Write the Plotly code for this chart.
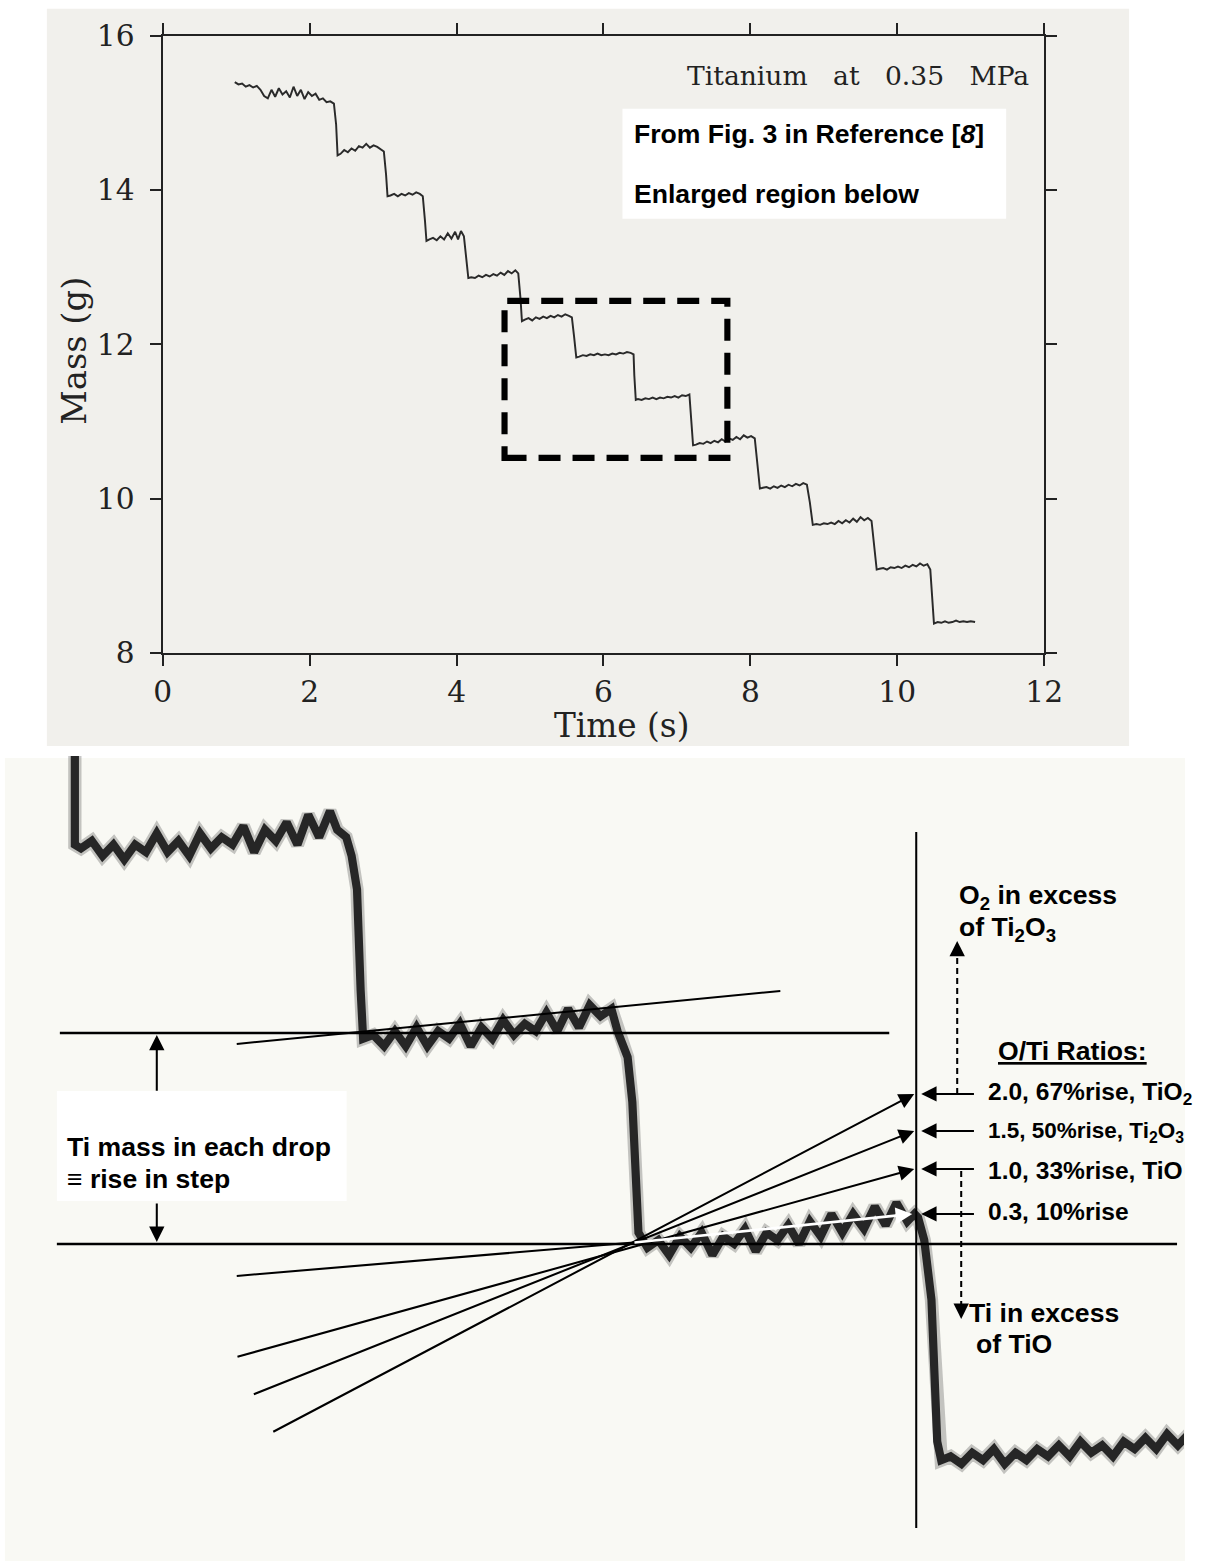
import plotly.graph_objects as go

W, H = 1206, 1564
# the captured page shows the figure slightly reduced and offset; place everything in picture pixels
S, OX, OY = 0.9775, 9.1, 17.2


def px(x):
    return (x - OX) / S / W


def py(y):
    return 1 - (y - OY) / S / H


def k(v):
    return v / S


# ---------------- data ----------------
top_time = [
    0.98, 1.03, 1.08, 1.13, 1.18, 1.23, 1.28, 1.33, 1.38, 1.43, 1.48, 1.53, 1.58, 1.63, 1.68, 1.73,
    1.78, 1.83, 1.88, 1.93, 1.98, 2.03, 2.08, 2.13, 2.18, 2.23, 2.28, 2.33,
    2.36, 2.38,
    2.42, 2.47, 2.52, 2.57, 2.62, 2.67, 2.72, 2.77, 2.82, 2.87, 2.92, 2.97, 3.01,
    3.04, 3.06,
    3.10, 3.15, 3.20, 3.25, 3.30, 3.35, 3.40, 3.45, 3.50, 3.54,
    3.57, 3.59,
    3.63, 3.68, 3.73, 3.78, 3.83, 3.88, 3.93, 3.98, 4.02, 4.06, 4.10,
    4.13, 4.16,
    4.20, 4.25, 4.30, 4.35, 4.40, 4.45, 4.50, 4.55, 4.60, 4.65, 4.70, 4.75, 4.80, 4.84,
    4.87, 4.89,
    4.93, 4.98, 5.03, 5.08, 5.13, 5.18, 5.23, 5.28, 5.33, 5.38, 5.43, 5.48, 5.53, 5.57,
    5.60, 5.63,
    5.67, 5.72, 5.77, 5.82, 5.87, 5.92, 5.97, 6.02, 6.07, 6.12, 6.17, 6.22, 6.27, 6.32, 6.37, 6.41,
    6.42, 6.44,
    6.47, 6.52, 6.57, 6.62, 6.67, 6.72, 6.77, 6.82, 6.87, 6.92, 6.97, 7.02, 7.07, 7.12, 7.17,
    7.20, 7.22,
    7.26, 7.31, 7.36, 7.41, 7.46, 7.51, 7.56, 7.61, 7.66, 7.71, 7.76, 7.81, 7.86, 7.91, 7.96, 8.01, 8.06,
    8.09, 8.13,
    8.17, 8.22, 8.27, 8.32, 8.37, 8.42, 8.47, 8.52, 8.57, 8.62, 8.67, 8.72, 8.77,
    8.81, 8.85,
    8.90, 8.95, 9.00, 9.05, 9.10, 9.15, 9.20, 9.25, 9.30, 9.35, 9.40, 9.45, 9.50, 9.55, 9.60, 9.65,
    9.68, 9.72,
    9.76, 9.81, 9.86, 9.91, 9.96, 10.01, 10.06, 10.11, 10.16, 10.21, 10.26, 10.31, 10.36, 10.41, 10.45,
    10.47, 10.50,
    10.55, 10.60, 10.65, 10.70, 10.75, 10.80, 10.85, 10.90, 10.95, 11.00, 11.06,
]
top_mass = [
    15.40, 15.37, 15.38, 15.34, 15.36, 15.33, 15.35, 15.30, 15.22, 15.19, 15.30, 15.21, 15.32, 15.24, 15.28, 15.20,
    15.34, 15.22, 15.30, 15.18, 15.27, 15.22, 15.25, 15.17, 15.19, 15.14, 15.15, 15.12,
    14.85, 14.45,
    14.47, 14.52, 14.49, 14.54, 14.51, 14.57, 14.55, 14.60, 14.55, 14.58, 14.56, 14.53, 14.50,
    14.20, 13.92,
    13.93, 13.95, 13.92, 13.95, 13.93, 13.96, 13.94, 13.97, 13.95, 13.92,
    13.60, 13.34,
    13.36, 13.38, 13.35, 13.40, 13.36, 13.44, 13.37, 13.46, 13.36, 13.47, 13.40,
    13.10, 12.86,
    12.87, 12.86, 12.89, 12.87, 12.90, 12.88, 12.91, 12.89, 12.93, 12.90, 12.95, 12.92, 12.96, 12.92,
    12.60, 12.30,
    12.32, 12.34, 12.31, 12.35, 12.33, 12.36, 12.34, 12.37, 12.35, 12.38, 12.36, 12.39, 12.37, 12.35,
    12.10, 11.83,
    11.84, 11.86, 11.85, 11.87, 11.86, 11.88, 11.86, 11.87, 11.86, 11.88, 11.87, 11.89, 11.88, 11.90, 11.89, 11.87,
    11.60, 11.28,
    11.29, 11.28, 11.30, 11.29, 11.31, 11.29, 11.31, 11.30, 11.32, 11.31, 11.33, 11.31, 11.34, 11.33, 11.35,
    11.00, 10.69,
    10.70, 10.72, 10.71, 10.74, 10.72, 10.75, 10.73, 10.77, 10.74, 10.78, 10.76, 10.80, 10.77, 10.82, 10.79, 10.81, 10.78,
    10.50, 10.13,
    10.14, 10.15, 10.13, 10.16, 10.14, 10.17, 10.15, 10.18, 10.16, 10.19, 10.17, 10.20, 10.18,
    9.95, 9.66,
    9.67, 9.66, 9.68, 9.67, 9.69, 9.67, 9.71, 9.68, 9.72, 9.69, 9.74, 9.70, 9.76, 9.72, 9.75, 9.71,
    9.40, 9.08,
    9.09, 9.10, 9.08, 9.11, 9.10, 9.12, 9.10, 9.13, 9.11, 9.14, 9.12, 9.16, 9.13, 9.15, 9.08,
    8.80, 8.38,
    8.40, 8.39, 8.41, 8.39, 8.40, 8.42, 8.40, 8.41, 8.40, 8.41, 8.40,
]

# enlarged region (higher-resolution copy of the dashed box)
zoom_time = [
    4.833, 4.833,
    4.85, 4.88, 4.91, 4.94, 4.97, 5.00, 5.03, 5.06, 5.09, 5.12, 5.15, 5.18, 5.21, 5.24, 5.27, 5.30,
    5.33, 5.36, 5.39, 5.42, 5.45, 5.48, 5.51, 5.54, 5.56,
    5.585, 5.600, 5.615, 5.625, 5.632,
    5.66, 5.69, 5.72, 5.75, 5.78, 5.81, 5.84, 5.87, 5.90, 5.93, 5.96, 5.99, 6.02, 6.05, 6.08, 6.11,
    6.14, 6.17, 6.20, 6.23, 6.26, 6.29,
    6.320, 6.337, 6.365, 6.378, 6.395,
    6.42, 6.45, 6.48, 6.51, 6.54, 6.57, 6.60, 6.63, 6.66, 6.69, 6.72, 6.75, 6.78, 6.81, 6.84, 6.87,
    6.90, 6.93, 6.96, 6.99, 7.02, 7.05, 7.08, 7.11, 7.14, 7.16,
    7.170, 7.187, 7.207, 7.223, 7.234,
    7.26, 7.29, 7.32, 7.35, 7.38, 7.41, 7.44, 7.47, 7.50, 7.53, 7.56, 7.59, 7.62, 7.65, 7.68, 7.71,
    7.74, 7.77, 7.80, 7.83, 7.86, 7.89, 7.92,
]
zoom_mass = [
    12.62, 12.34,
    12.33, 12.35, 12.31, 12.34, 12.30, 12.34, 12.32, 12.37, 12.32, 12.35, 12.31, 12.37, 12.33, 12.36, 12.34, 12.39,
    12.32, 12.38, 12.35, 12.40, 12.34, 12.42, 12.36, 12.43, 12.38,
    12.36, 12.31, 12.22, 11.95, 11.82,
    11.83, 11.80, 11.84, 11.80, 11.85, 11.80, 11.84, 11.82, 11.86, 11.80, 11.85, 11.82, 11.87, 11.83, 11.86, 11.84,
    11.89, 11.84, 11.90, 11.85, 11.91, 11.88,
    11.90, 11.84, 11.77, 11.65, 11.30,
    11.26, 11.28, 11.24, 11.29, 11.26, 11.30, 11.24, 11.29, 11.27, 11.31, 11.25, 11.30, 11.28, 11.32, 11.27, 11.33,
    11.29, 11.35, 11.30, 11.35, 11.31, 11.37, 11.32, 11.38, 11.33, 11.35,
    11.34, 11.28, 11.12, 10.74, 10.69,
    10.70, 10.68, 10.71, 10.69, 10.72, 10.68, 10.71, 10.69, 10.72, 10.70, 10.73, 10.70, 10.74, 10.71, 10.73, 10.70,
    10.74, 10.72, 10.75, 10.72, 10.76, 10.73, 10.76,
]

x_ticks = [0, 2, 4, 6, 8, 10, 12]
y_ticks = [8, 10, 12, 14, 16]

ratio_labels = [
    "2.0, 67%rise, TiO<sub>2</sub>",
    "1.5, 50%rise, Ti<sub>2</sub>O<sub>3</sub>",
    "1.0, 33%rise, TiO",
    "0.3, 10%rise",
]

SERIF = "DejaVu Serif, Liberation Serif, serif"
SANS = "Liberation Sans, Arial, sans-serif"
INK = "#222222"

fig = go.Figure()

fig.add_trace(go.Scatter(x=top_time, y=top_mass, mode="lines", xaxis="x", yaxis="y",
                         line=dict(color="#2a2a2a", width=k(1.9)), hoverinfo="skip"))
fig.add_trace(go.Scatter(x=zoom_time, y=zoom_mass, mode="lines", xaxis="x2", yaxis="y2",
                         line=dict(color="rgba(70,70,70,0.30)", width=k(13)), hoverinfo="skip"))
fig.add_trace(go.Scatter(x=zoom_time, y=zoom_mass, mode="lines", xaxis="x2", yaxis="y2",
                         line=dict(color="#262626", width=k(8)), hoverinfo="skip"))

shapes = []


def rect(x0, y0, x1, y1, fill, layer="below"):
    shapes.append(dict(type="rect", xref="paper", yref="paper", x0=px(x0), y0=py(y1), x1=px(x1), y1=py(y0),
                       fillcolor=fill, line=dict(width=0), layer=layer))


def seg(x0, y0, x1, y1, w=2.0, color="black", dash=None):
    shapes.append(dict(type="line", xref="paper", yref="paper", x0=px(x0), y0=py(y0), x1=px(x1), y1=py(y1),
                       line=dict(color=color, width=k(w), dash=dash), layer="above"))


rect(47, 8, 1130, 745, "#f1f0ec")
rect(5, 757, 1186, 1560, "#f9f9f4")
rect(623, 108, 1007, 218, "#ffffff")
rect(57, 1090, 347, 1200, "#ffffff")

shapes.append(dict(type="rect", xref="paper", yref="paper", x0=px(505), y0=py(457), x1=px(728), y1=py(300),
                   line=dict(color="black", width=k(6), dash="22px,12px"), fillcolor="rgba(0,0,0,0)",
                   layer="above"))

seg(60, 1032, 890, 1032, 2.5)
seg(237, 1043, 781, 990, 2.0)
seg(57, 1243, 1178, 1243, 2.5)
seg(917, 831, 917, 1527, 2.0)
seg(237, 1275, 640, 1241, 2.0)
seg(958, 1093, 958, 952, 2.0, dash="6px,4px")
seg(962, 1170, 962, 1306, 2.0, dash="6px,4px")

annotations = []


def arrow(tx, ty, sx, sy, color="black", w=2.0, size=1.5):
    annotations.append(dict(x=px(tx), y=py(ty), xref="paper", yref="paper", ax=k(sx - tx), ay=k(sy - ty),
                            axref="pixel", ayref="pixel", showarrow=True, arrowhead=2, arrowsize=size,
                            arrowwidth=k(w), arrowcolor=color, text="", standoff=0))


def label(x, y, text, size=26, anchor="left", family=SANS, color="black", **kw):
    font = dict(family=family, size=k(size), color=color)
    font.update(kw.pop("font_extra", {}))
    annotations.append(dict(x=px(x), y=py(y), xref="paper", yref="paper", text=text, showarrow=False,
                            xanchor=anchor, yanchor="middle", font=font, **kw))


label(1032, 75, "Titanium\u00a0\u00a0 at\u00a0\u00a0 0.35\u00a0\u00a0 MPa", size=26, anchor="right",
      family=SERIF, color=INK)
label(633, 133, "<b>From Fig. 3 in Reference [<i>8</i>]</b>", size=26)
label(633, 193, "<b>Enlarged region below</b>", size=26)
label(622, 725, "Time (s)", size=32, anchor="center", family=SERIF, color=INK)
label(75, 350, "Mass (g)", size=33, anchor="center", family=SERIF, color=INK, textangle=-90)

label(65, 1146, "<b>Ti mass in each drop</b>", size=26)
label(65, 1178, "<b>\u2261 rise in step</b>", size=26)
label(958, 896, "<b>O<sub>2</sub> in excess</b>", size=26)
label(958, 928, "<b>of Ti<sub>2</sub>O<sub>3</sub></b>", size=26)
label(997, 1050, "<b>O/Ti Ratios:</b>", size=26, font_extra=dict(lineposition="under"))
ratio_y = [1093, 1131, 1170, 1211]
ratio_size = [24, 22, 24, 24]
for yy, txt, sz in zip(ratio_y, ratio_labels, ratio_size):
    label(987, yy, "<b>" + txt + "</b>", size=sz)
label(968, 1312, "<b>Ti in excess</b>", size=26)
label(975, 1343, "<b>of TiO</b>", size=26)

arrow(157, 1034, 157, 1090)
arrow(157, 1241, 157, 1202)
arrow(915, 1093, 287, 1424)
arrow(915, 1130, 268, 1388)
arrow(915, 1168, 252, 1352)
arrow(913, 1213, 640, 1241, color="white", w=2.5, size=1.3)
for yy in [1093, 1130, 1168, 1213]:
    arrow(922, yy, 975, yy)
arrow(958, 940, 958, 956)
arrow(962, 1318, 962, 1302)

axis_common = dict(ticks="outside", ticklen=k(11), tickwidth=k(1.5), tickcolor=INK, showline=True,
                   linewidth=k(2), linecolor=INK, mirror="ticks", showgrid=False, zeroline=False,
                   tickfont=dict(family=SERIF, size=k(29), color=INK))

# enlarged panel spans picture pixels x 10..1185 and y 755..1545
zoom_x_range = [4.653, 7.907]
zoom_y_range = [10.460, 12.578]

fig.update_layout(
    width=W, height=H,
    margin=dict(l=0, r=0, t=0, b=0),
    paper_bgcolor="white",
    plot_bgcolor="rgba(0,0,0,0)",
    showlegend=False,
    xaxis=dict(domain=[px(163), px(1045)], range=[0, 12], anchor="y", tickvals=x_ticks,
               ticklabelstandoff=0, **axis_common),
    yaxis=dict(domain=[py(652), py(35)], range=[8, 16], anchor="x", tickvals=y_ticks,
               ticklabelstandoff=9, **axis_common),
    xaxis2=dict(domain=[px(10), px(1185)], range=zoom_x_range, anchor="y2", visible=False),
    yaxis2=dict(domain=[py(1545), py(755)], range=zoom_y_range, anchor="x2", visible=False),
    shapes=shapes,
    annotations=annotations,
)

fig.write_html("out.html")
